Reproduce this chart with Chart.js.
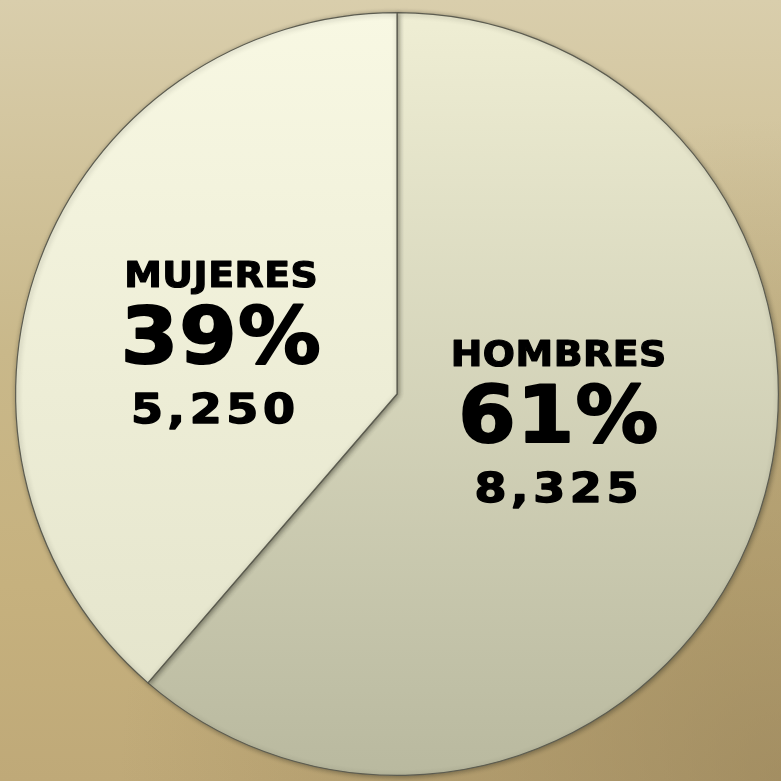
<!DOCTYPE html>
<html>
<head>
<meta charset="utf-8">
<script src="https://cdn.jsdelivr.net/npm/chart.js@4"></script>
<style>
  html, body {
    margin: 0;
    padding: 0;
    width: 781px;
    height: 781px;
    overflow: hidden;
  }
  body {
    background:
      radial-gradient(ellipse at 100% 100%, rgba(140,120,80,0.55) 0%, rgba(140,120,80,0) 60%),
      linear-gradient(180deg, #d9ceac 0%, #c9b88a 45%, #c6b17e 75%, #bfa978 100%);
  }
  #wrap { width: 781px; height: 781px; }
</style>
</head>
<body>
<div id="wrap"><canvas id="pieChart"></canvas></div>
<script>
const categories = ['HOMBRES', 'MUJERES'];
const values = [8325, 5250];
const percentLabels = ['61%', '39%'];
const valueLabels = ['8,325', '5,250'];

// slice gradients: top colour, bottom colour
const sliceTop = ['#efeed4', '#f8f8e3'];
const sliceBottom = ['#b9b99f', '#e2e2c9'];

function sliceFill(context) {
    const chart = context.chart;
    const area = chart.chartArea;
    if (!area) return sliceTop[context.dataIndex];
    const g = chart.ctx.createLinearGradient(0, area.top, 0, area.bottom);
    g.addColorStop(0, sliceTop[context.dataIndex]);
    g.addColorStop(1, sliceBottom[context.dataIndex]);
    return g;
}

// soft shadow along the slice edges
const bevelShadow = {
    id: 'bevelShadow',
    beforeDatasetsDraw(chart) {
        const ctx = chart.ctx;
        ctx.save();
        ctx.shadowColor = 'rgba(40,40,30,0.45)';
        ctx.shadowBlur = 5;
        ctx.shadowOffsetX = 1;
        ctx.shadowOffsetY = 1;
    },
    afterDatasetsDraw(chart) {
        chart.ctx.restore();
    }
};

function boldText(ctx, text, x, y, size, spacing, sx, stroke) {
    ctx.save();
    ctx.translate(x, y);
    ctx.scale(sx, 1);
    ctx.font = 'bold ' + size + 'px "DejaVu Sans"';
    ctx.letterSpacing = spacing + 'px';
    ctx.lineWidth = stroke;
    ctx.lineJoin = 'round';
    ctx.strokeText(text, 0, 0);
    ctx.fillText(text, 0, 0);
    ctx.restore();
}

// three-line labels inside each slice
const sliceLabels = {
    id: 'sliceLabels',
    afterDraw(chart) {
        const ctx = chart.ctx;
        const meta = chart.getDatasetMeta(0);
        const shift = [{ x: -17, y: -94 }, { x: 3, y: -41 }];
        meta.data.forEach(function (arc, i) {
            const p = arc.tooltipPosition();
            const x = p.x + shift[i].x;
            const y = p.y + shift[i].y;
            ctx.save();
            ctx.fillStyle = '#000000';
            ctx.strokeStyle = '#000000';
            ctx.textAlign = 'center';
            ctx.textBaseline = 'alphabetic';
            boldText(ctx, categories[i], x, y, 35, 0.5, 1.08, 1.2);
            boldText(ctx, percentLabels[i], x, y + 76, 78, 1, 1.06, 2);
            boldText(ctx, valueLabels[i], x - (i === 1 ? 6 : 0), y + 136, 40, 4, 1.15, 1.4);
            ctx.restore();
        });
    }
};

const ctx = document.getElementById('pieChart').getContext('2d');
new Chart(ctx, {
    type: 'pie',
    data: {
        labels: categories,
        datasets: [{
            data: values,
            backgroundColor: sliceFill,
            borderColor: '#5c5c50',
            borderWidth: 1.2
        }]
    },
    options: {
        responsive: true,
        maintainAspectRatio: false,
        animation: false,
        layout: {
            padding: { left: 15, right: 2, top: 12, bottom: 5 }
        },
        plugins: {
            legend: { display: false },
            tooltip: { enabled: false }
        }
    },
    plugins: [bevelShadow, sliceLabels]
});
</script>
</body>
</html>
